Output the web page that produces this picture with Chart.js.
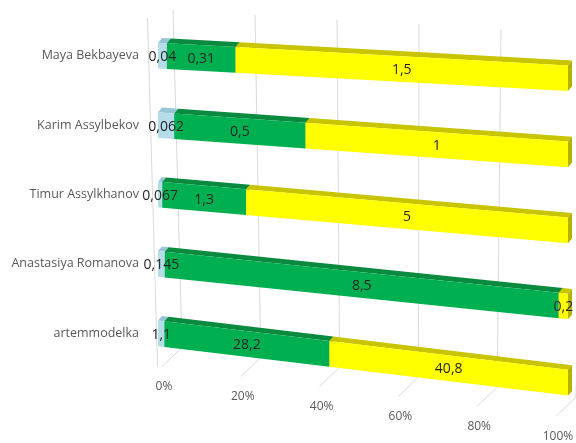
<!DOCTYPE html>
<html>
<head>
<meta charset="utf-8">
<script src="https://cdn.jsdelivr.net/npm/chart.js@4.4.1/dist/chart.umd.min.js"></script>
<style>
  html, body { margin: 0; padding: 0; background: #fff; overflow: hidden; }
  #wrap { width: 600px; height: 443px; }
</style>
</head>
<body>
<div id="wrap"><canvas id="chart" width="600" height="443"></canvas></div>
<script>
// данные диаграммы
const categories = ['Maya Bekbayeva', 'Karim Assylbekov', 'Timur Assylkhanov', 'Anastasiya Romanova', 'artemmodelka'];
const seriesBlue = [0.04, 0.062, 0.067, 0.145, 1.1];
const seriesGreen = [0.31, 0.5, 1.3, 8.5, 28.2];
const seriesYellow = [1.5, 1, 5, 0.2, 40.8];
const xTicks = [0, 20, 40, 60, 80, 100];

const rawSeries = [seriesBlue, seriesGreen, seriesYellow];
const totals = categories.map((_, i) => seriesBlue[i] + seriesGreen[i] + seriesYellow[i]);
const toPct = arr => arr.map((v, i) => v / totals[i] * 100);

// цвета граней: лицевая, верхняя, торец
const palette = [
  { front: '#b5dce9', top: '#96c6d6', side: '#86b8c9' },
  { front: '#00b050', top: '#0a8a3e', side: '#007a36' },
  { front: '#ffff00', top: '#c8c400', side: '#b5b200' }
];

const DEPTH_X = 4, DEPTH_Y = 5;
// наклон полос (перспектива): сверху меньше, снизу больше
function slopeAt(y) { return 0.055 + (y - 56) * 0.000235; }
const fmt = v => String(v).replace('.', ',');

const bars3d = {
  id: 'bars3d',
  beforeDatasetsDraw(chart) {
    const ctx = chart.ctx, xs = chart.scales.x;
    // задняя стенка, пол и подписи оси X
    ctx.save();
    ctx.strokeStyle = '#d9d9d9';
    ctx.lineWidth = 1;
    ctx.beginPath(); ctx.moveTo(147.5, 18); ctx.lineTo(157.5, 366); ctx.stroke();
    ctx.fillStyle = '#595959';
    ctx.font = '12px "Open Sans"';
    ctx.textAlign = 'center';
    ctx.textBaseline = 'middle';
    xTicks.forEach(v => {
      const px = xs.getPixelForValue(v);
      const xt = px + 15, xb = px + 24 - 0.16 * v;
      const yt = 10 + 0.058 * (xt - 173), yb = 347.5 + 0.126 * (xb - 182);
      ctx.beginPath();
      ctx.moveTo(xt, yt); ctx.lineTo(xb, yb); ctx.lineTo(xb - 20, yb + 19);
      ctx.stroke();
      ctx.fillText(v + '%', xb - 18, yb + 39);
    });
    ctx.restore();

    // сами полосы с верхней гранью и торцом
    const x0 = xs.getPixelForValue(0);
    chart.data.datasets.forEach((ds, d) => {
      const col = palette[d];
      chart.getDatasetMeta(d).data.forEach(bar => {
        const k = slopeAt(bar.y);
        const top = bar.y - bar.height / 2, bot = bar.y + bar.height / 2;
        const l = Math.min(bar.base, bar.x), r = Math.max(bar.base, bar.x);
        ctx.save();
        ctx.transform(1, k, 0, 1, 0, -k * x0);
        ctx.fillStyle = col.top;
        ctx.beginPath();
        ctx.moveTo(l, top); ctx.lineTo(r, top);
        ctx.lineTo(r + DEPTH_X, top - DEPTH_Y); ctx.lineTo(l + DEPTH_X, top - DEPTH_Y);
        ctx.closePath(); ctx.fill();
        ctx.fillStyle = col.side;
        ctx.beginPath();
        ctx.moveTo(r, top); ctx.lineTo(r + DEPTH_X, top - DEPTH_Y);
        ctx.lineTo(r + DEPTH_X, bot - DEPTH_Y); ctx.lineTo(r, bot);
        ctx.closePath(); ctx.fill();
        bar.draw(ctx);
        ctx.restore();
      });
    });
  },
  beforeDatasetDraw() { return false; },
  afterDatasetsDraw(chart) {
    const ctx = chart.ctx;
    const x0 = chart.scales.x.getPixelForValue(0);
    ctx.save();
    ctx.fillStyle = '#262626';
    ctx.font = '14px "Open Sans"';
    ctx.textAlign = 'center';
    ctx.textBaseline = 'middle';
    chart.data.datasets.forEach((ds, d) => {
      chart.getDatasetMeta(d).data.forEach((bar, i) => {
        const cx = (bar.base + bar.x) / 2;
        const cy = bar.y + slopeAt(bar.y) * (cx - x0) + 1;
        ctx.fillText(fmt(rawSeries[d][i]), cx, cy);
      });
    });
    ctx.restore();
  }
};

Chart.defaults.font.family = "'Open Sans', sans-serif";

new Chart(document.getElementById('chart').getContext('2d'), {
  type: 'bar',
  data: {
    labels: categories,
    datasets: rawSeries.map((arr, d) => ({
      label: 'Ряд' + (d + 1),
      data: toPct(arr),
      backgroundColor: palette[d].front,
      borderWidth: 0,
      barPercentage: 0.37,
      categoryPercentage: 1
    }))
  },
  options: {
    indexAxis: 'y',
    responsive: false,
    animation: false,
    layout: { padding: { left: 0, right: 32, top: 21, bottom: 75 } },
    plugins: { legend: { display: false }, tooltip: { enabled: false } },
    scales: {
      x: { stacked: true, min: 0, max: 100, display: false },
      y: {
        stacked: true,
        grid: { display: false },
        border: { display: false },
        ticks: { color: '#595959', font: { size: 12.5 }, padding: 11 },
        afterFit: s => { s.width = 158; }
      }
    }
  },
  plugins: [bars3d]
});
</script>
</body>
</html>
